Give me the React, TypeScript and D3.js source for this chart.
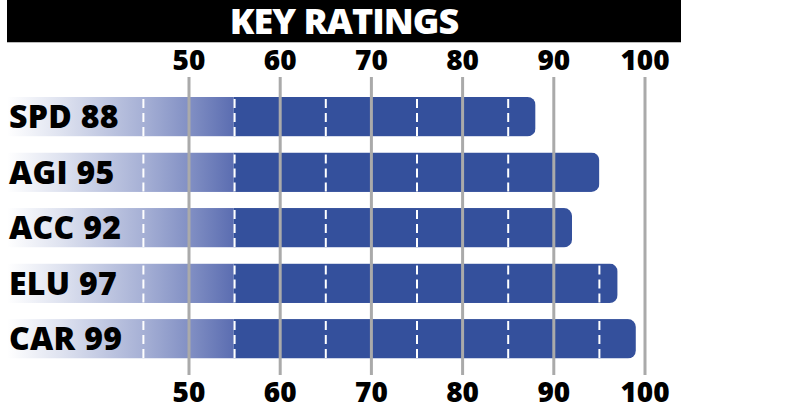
import * as d3 from 'd3';

const categories = ['SPD', 'AGI', 'ACC', 'ELU', 'CAR'];
const ratings = [88, 95, 92, 97, 99];
const gridTicks = [50, 60, 70, 80, 90, 100];
const dashTicks = [45, 55, 65, 75, 85, 95];

const width = 785;
const height = 415;
const barColor = '#34509c';
const font = "'Open Sans', sans-serif";

const App = () => {
  const x = d3.scaleLinear().domain([50, 100]).range([189, 645]);
  const y = d3.scaleBand().domain(categories).range([97, 358.5]).paddingInner(0.29).paddingOuter(0);

  const barLeft = 7;
  const bw = y.bandwidth();
  const fadeEnd = x(55) - 1;
  const off = (v: number) => (v - barLeft) / (fadeEnd - barLeft);

  return (
    <svg width={width} height={height} viewBox={`0 0 ${width} ${height}`} style={{ display: 'block', position: 'absolute', left: 0, top: 0 }}>
      <defs>
        <linearGradient id="fade" gradientUnits="userSpaceOnUse" x1={barLeft} x2={fadeEnd} y1={0} y2={0}>
          <stop offset="0" stopColor="#ffffff" />
          <stop offset={off(60)} stopColor="#dfe3f0" />
          <stop offset={off(x(45))} stopColor="#a6b0d5" />
          <stop offset={off(x(50))} stopColor="#8290c4" />
          <stop offset="1" stopColor="#5b6db1" />
        </linearGradient>
        {categories.map((c, i) => (
          <clipPath id={`clip-${c}`} key={c}>
            <rect x={barLeft - 20} y={y(c)} width={x(ratings[i]) - barLeft + 20} height={bw} rx={8} />
          </clipPath>
        ))}
      </defs>

      <rect x={7} y={0} width={674} height={42} fill="#000" />
      <line x1={7} x2={681} y1={42.5} y2={42.5} stroke="#bbb" strokeWidth={1} />
      <text x={344} y={34} textAnchor="middle" fill="#fff" fontFamily={font} fontWeight={800} fontSize={36} letterSpacing={-1}>
        KEY RATINGS
      </text>

      {categories.map((c, i) => (
        <g key={c} clipPath={`url(#clip-${c})`}>
          <rect x={barLeft} y={y(c)} width={fadeEnd - barLeft} height={bw} fill="url(#fade)" />
          <rect x={fadeEnd} y={y(c)} width={x(ratings[i]) - fadeEnd} height={bw} fill={barColor} />
          {dashTicks
            .filter(t => t < ratings[i])
            .map(t => (
              <line key={t} x1={x(t)} x2={x(t)} y1={y(c)} y2={(y(c) || 0) + bw} stroke="#fff" strokeWidth={2} strokeDasharray="9,5" strokeDashoffset={-2} />
            ))}
        </g>
      ))}

      {gridTicks.map(t => (
        <line key={t} x1={x(t)} x2={x(t)} y1={77} y2={375} stroke="#aaaaaa" strokeWidth={3} />
      ))}

      {gridTicks.map(t => (
        <g key={t} fontFamily={font} fontWeight={800} fontSize={28} textAnchor="middle" fill="#000">
          <text x={x(t)} y={70}>{t}</text>
          <text x={x(t)} y={402}>{t}</text>
        </g>
      ))}

      {categories.map((c, i) => (
        <text key={c} x={9} y={(y(c) || 0) + bw / 2 + 11.5} fontFamily={font} fontWeight={800} fontSize={32} fill="#000" letterSpacing={0.3}>
          {`${c} ${ratings[i]}`}
        </text>
      ))}
    </svg>
  );
};

export default App;
